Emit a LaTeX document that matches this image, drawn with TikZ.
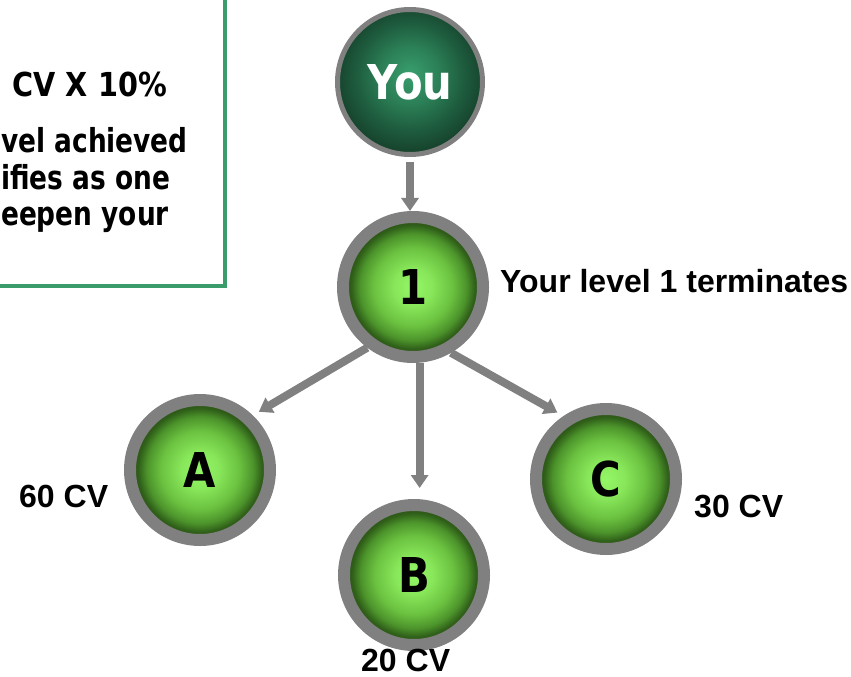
\documentclass[tikz,border=0pt]{standalone}
\usepackage{fontspec}
\usetikzlibrary{arrows.meta}
\newfontfamily\tahfont[FakeStretch=0.87]{DejaVu Sans}
\newfontfamily\boxfont[FakeStretch=0.8]{DejaVu Sans}
\newfontfamily\arifont{Liberation Sans}
\definecolor{ringgray}{RGB}{128,128,128}
\definecolor{boxgreen}{RGB}{58,156,106}
\pgfdeclareradialshading{lightball}{\pgfpoint{0bp}{0bp}}{rgb(0bp)=(0.58,0.97,0.40); rgb(7bp)=(0.53,0.90,0.35); rgb(14bp)=(0.42,0.76,0.25); rgb(19bp)=(0.30,0.58,0.17); rgb(22bp)=(0.19,0.38,0.10); rgb(25bp)=(0.15,0.28,0.08); rgb(50bp)=(0.15,0.28,0.08)}
\pgfdeclareradialshading{darkball}{\pgfpoint{0bp}{3bp}}{rgb(0bp)=(0.22,0.62,0.43); rgb(10bp)=(0.17,0.50,0.34); rgb(18bp)=(0.12,0.37,0.25); rgb(25bp)=(0.09,0.27,0.18); rgb(50bp)=(0.09,0.27,0.18)}
\begin{document}
\begin{tikzpicture}[x=1bp,y=-1bp,
  ball/.style={circle, draw=ringgray, line width=12bp, minimum size=140bp, inner sep=0pt,
    shading=lightball, font=\tahfont\bfseries\fontsize{48bp}{48bp}\selectfont},
  topball/.style={circle, draw=ringgray, line width=5bp, minimum size=145bp, inner sep=0pt,
    shading=darkball, text=white, font=\tahfont\bfseries\fontsize{48bp}{48bp}\selectfont},
  lbl/.style={inner sep=0pt, font=\arifont\bfseries\fontsize{32bp}{32bp}\selectfont},
  boxtext/.style={inner sep=0pt, font=\boxfont\bfseries\fontsize{33bp}{33bp}\selectfont},
  arr/.style={draw=ringgray, line width=8bp, -{Triangle[length=13bp,width=17bp]}}]
\useasboundingbox (0,0) rectangle (851,677);
\clip (0,0) rectangle (851,677);
% info box (partly outside the picture)
\draw[boxgreen, line width=4bp] (-20,-20) rectangle (225,286);
\node[boxtext, font=\tahfont\bfseries\fontsize{33bp}{33bp}\selectfont, anchor=base east] (t1) at (167,97) {CV X 10\%};
\node[boxtext, anchor=base west] (t2) at (1,153) {vel achieved};
\node[boxtext, anchor=base west] (t3) at (1,189) {ifies as one};
\node[boxtext, anchor=base west] (t4) at (1,225) {eepen your};
% nodes
\node[topball] (you) at (410,82) {You};
\node[ball] (one) at (413,287) {1};
\node[ball] (a) at (200,470) {A};
\node[ball] (b) at (414,575) {B};
\node[ball] (c) at (606,479) {C};
% labels
\node[lbl, anchor=base west] (l1) at (500,292) {Your level 1 terminates};
\node[lbl, anchor=base west] (la) at (19,507) {60 CV};
\node[lbl, anchor=base west] (lc) at (694,517) {30 CV};
\node[lbl, anchor=base west] (lb) at (361,671) {20 CV};
% connectors
\draw[arr, shorten <=5bp] (you.south) -- (you.south |- one.north);
\draw[arr, shorten >=7bp] (one.233) -- (a.46);
\draw[arr, shorten >=11bp] (one.275) -- (one.275 |- b.north);
\draw[arr, shorten >=7bp] (one.300) -- (c.124);
\end{tikzpicture}
\end{document}
